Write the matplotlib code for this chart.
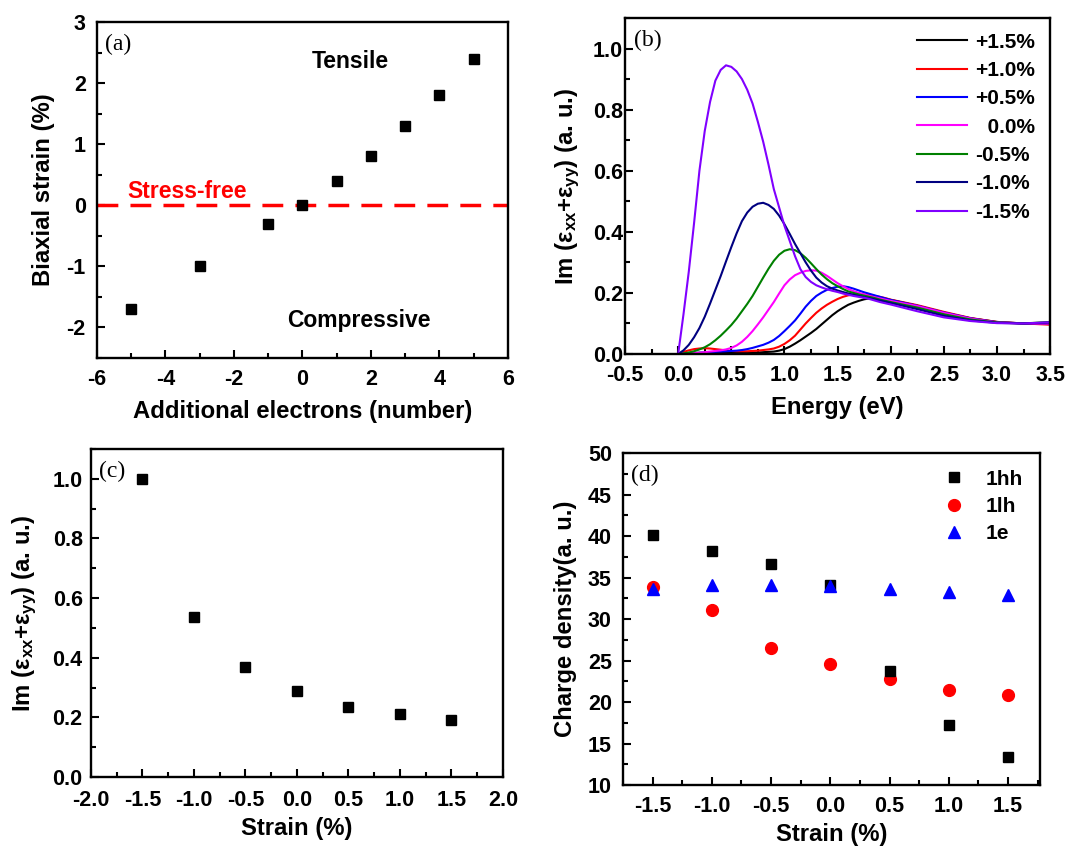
import matplotlib
matplotlib.use('Agg')
import matplotlib.pyplot as plt
from matplotlib.ticker import MultipleLocator

plt.rcParams['font.family'] = ['Liberation Sans', 'DejaVu Sans']
plt.rcParams['font.weight'] = 'bold'
plt.rcParams['axes.labelweight'] = 'bold'
plt.rcParams['axes.unicode_minus'] = False
plt.rcParams['mathtext.fontset'] = 'custom'
plt.rcParams['mathtext.rm'] = 'Liberation Sans:bold'
plt.rcParams['mathtext.it'] = 'Liberation Sans:bold'
plt.rcParams['mathtext.bf'] = 'Liberation Sans:bold'

# ---- (a) strain vs additional electrons
electrons = [-5, -3, -1, 0, 1, 2, 3, 4, 5]
biaxial_strain = [-1.7, -1.0, -0.3, 0.0, 0.4, 0.8, 1.3, 1.8, 2.4]

# ---- (b) Im(eps_xx + eps_yy) spectra
energy = [0.0, 0.05, 0.1, 0.15, 0.2, 0.25, 0.3, 0.35, 0.4, 0.45, 0.5,
          0.55, 0.6, 0.65, 0.7, 0.75, 0.8, 0.85, 0.9, 0.95, 1.0,
          1.05, 1.1, 1.15, 1.2, 1.25, 1.3, 1.35, 1.4, 1.45, 1.5,
          1.55, 1.6, 1.65, 1.7, 1.75, 1.8, 1.85, 1.9, 1.95, 2.0,
          2.25, 2.5, 2.75, 3.0, 3.25, 3.5]
im_p15 = [0.0, 0.002, 0.003, 0.003, 0.004, 0.004, 0.004, 0.004, 0.004, 0.004, 0.004,
          0.004, 0.004, 0.005, 0.005, 0.005, 0.006, 0.007, 0.008, 0.011, 0.016,
          0.024, 0.034, 0.045, 0.057, 0.069, 0.082, 0.097, 0.112, 0.127, 0.140,
          0.151, 0.161, 0.168, 0.174, 0.179, 0.182, 0.183, 0.182, 0.180, 0.177,
          0.158, 0.135, 0.117, 0.105, 0.100, 0.098]
im_p10 = [0.0, 0.007, 0.012, 0.016, 0.018, 0.019, 0.018, 0.016, 0.014, 0.012, 0.010,
          0.009, 0.009, 0.009, 0.010, 0.011, 0.013, 0.015, 0.018, 0.024, 0.033,
          0.045, 0.060, 0.080, 0.100, 0.118, 0.135, 0.149, 0.161, 0.171, 0.180,
          0.187, 0.192, 0.195, 0.196, 0.195, 0.193, 0.190, 0.187, 0.183, 0.178,
          0.160, 0.138, 0.118, 0.105, 0.100, 0.096]
im_p05 = [0.0, 0.001, 0.002, 0.003, 0.004, 0.005, 0.006, 0.007, 0.008, 0.009, 0.010,
          0.011, 0.013, 0.016, 0.020, 0.025, 0.030, 0.037, 0.046, 0.059, 0.075,
          0.092, 0.110, 0.132, 0.155, 0.174, 0.190, 0.201, 0.210, 0.216, 0.220,
          0.222, 0.219, 0.214, 0.208, 0.202, 0.197, 0.192, 0.187, 0.182, 0.177,
          0.158, 0.136, 0.117, 0.104, 0.100, 0.100]
im_00 = [0.0, 0.001, 0.002, 0.003, 0.004, 0.006, 0.008, 0.010, 0.012, 0.015, 0.020,
         0.028, 0.040, 0.056, 0.075, 0.097, 0.120, 0.145, 0.170, 0.198, 0.225,
         0.244, 0.258, 0.266, 0.272, 0.274, 0.273, 0.266, 0.256, 0.244, 0.232,
         0.222, 0.213, 0.206, 0.200, 0.195, 0.190, 0.186, 0.182, 0.178, 0.174,
         0.157, 0.135, 0.116, 0.103, 0.100, 0.100]
im_m05 = [0.0, 0.002, 0.005, 0.009, 0.015, 0.022, 0.032, 0.045, 0.060, 0.077, 0.095,
          0.116, 0.140, 0.164, 0.190, 0.220, 0.250, 0.279, 0.305, 0.325, 0.338,
          0.343, 0.340, 0.330, 0.315, 0.297, 0.278, 0.260, 0.245, 0.232, 0.222,
          0.213, 0.205, 0.200, 0.195, 0.191, 0.187, 0.183, 0.178, 0.174, 0.170,
          0.152, 0.130, 0.113, 0.103, 0.100, 0.105]
im_m10 = [0.0, 0.012, 0.030, 0.055, 0.085, 0.122, 0.165, 0.210, 0.255, 0.303, 0.350,
          0.395, 0.435, 0.463, 0.482, 0.492, 0.495, 0.488, 0.475, 0.453, 0.425,
          0.393, 0.360, 0.330, 0.300, 0.273, 0.250, 0.234, 0.222, 0.214, 0.208,
          0.203, 0.198, 0.194, 0.190, 0.186, 0.183, 0.179, 0.175, 0.171, 0.167,
          0.147, 0.125, 0.110, 0.102, 0.100, 0.103]
im_m15 = [0.0, 0.130, 0.270, 0.430, 0.600, 0.730, 0.825, 0.895, 0.930, 0.945, 0.940,
          0.925, 0.900, 0.865, 0.820, 0.760, 0.695, 0.620, 0.540, 0.480, 0.420,
          0.370, 0.320, 0.278, 0.252, 0.236, 0.225, 0.218, 0.212, 0.207, 0.203,
          0.198, 0.194, 0.190, 0.187, 0.184, 0.180, 0.175, 0.170, 0.166, 0.162,
          0.140, 0.120, 0.108, 0.101, 0.100, 0.104]

spectra = [
    ('+1.5%', im_p15, 'black'),
    ('+1.0%', im_p10, '#FF0000'),
    ('+0.5%', im_p05, '#0000FF'),
    ('  0.0%', im_00, '#FF00FF'),
    ('-0.5%', im_m05, '#008000'),
    ('-1.0%', im_m10, '#000080'),
    ('-1.5%', im_m15, '#8000FF'),
]

# ---- (c) peak intensity vs strain
strain = [-1.5, -1.0, -0.5, 0.0, 0.5, 1.0, 1.5]
peak_im = [1.0, 0.535, 0.37, 0.29, 0.235, 0.21, 0.19]

# ---- (d) charge density vs strain
dens_1hh = [40.1, 38.2, 36.6, 34.1, 23.7, 17.2, 13.4]
dens_1lh = [33.8, 31.1, 26.5, 24.6, 22.8, 21.4, 20.9]
dens_1e = [33.6, 34.1, 34.1, 34.0, 33.6, 33.3, 32.9]

TICK_FS = 15.5
LABEL_FS = 17.2
NOTE_FS = 16.5


def style(ax, xmaj, xmin, ymaj, ymin, xpad=8, ypad=7):
    ax.xaxis.set_major_locator(MultipleLocator(xmaj))
    ax.xaxis.set_minor_locator(MultipleLocator(xmin))
    ax.yaxis.set_major_locator(MultipleLocator(ymaj))
    ax.yaxis.set_minor_locator(MultipleLocator(ymin))
    ax.tick_params(which='both', direction='in', top=False, right=False,
                   width=1.5, labelsize=TICK_FS)
    ax.tick_params(which='major', length=6)
    ax.tick_params(which='minor', length=3.5)
    ax.tick_params(axis='x', which='both', pad=xpad)
    ax.tick_params(axis='y', which='both', pad=ypad)
    for s in ax.spines.values():
        s.set_linewidth(1.7)


def panel_label(ax, txt):
    ax.text(0.02, 0.965, txt, transform=ax.transAxes, ha='left', va='top',
            fontsize=17, family='Liberation Serif', fontweight='normal')


fig = plt.figure(figsize=(10.69, 8.52), dpi=100)

# (a)
ax = fig.add_axes([0.0907, 0.5798, 0.3845, 0.3944])
ax.axhline(0, color='#FF0000', lw=2.5, dashes=(6, 3.5))
ax.plot(electrons, biaxial_strain, 's', color='black', ms=7.5)
ax.set_xlim(-6, 6)
ax.set_ylim(-2.5, 3)
style(ax, 2, 1, 1, 0.5, xpad=8, ypad=8)
ax.set_xlabel('Additional electrons (number)', fontsize=LABEL_FS, labelpad=7)
ax.set_ylabel('Biaxial strain (%)', fontsize=LABEL_FS, labelpad=8)
ax.text(1.4, 2.25, 'Tensile', ha='center', va='baseline', fontsize=NOTE_FS)
ax.text(1.65, -1.99, 'Compressive', ha='center', va='baseline', fontsize=NOTE_FS)
ax.text(-3.37, 0.12, 'Stress-free', ha='center', va='baseline', fontsize=NOTE_FS,
        color='#FF0000')
panel_label(ax, '(a)')

# (b)
ax = fig.add_axes([0.5847, 0.5845, 0.3976, 0.3944])
for lab, v, c in spectra:
    ax.plot(energy, v, color=c, lw=1.5, label=lab)
ax.set_xlim(-0.5, 3.5)
ax.set_ylim(0, 1.1)
style(ax, 0.5, 0.25, 0.2, 0.1, xpad=8, ypad=1.5)
ax.set_xlabel('Energy (eV)', fontsize=LABEL_FS, labelpad=7)
ax.set_ylabel('Im (ε$_{xx}$+ε$_{yy}$) (a. u.)', fontsize=LABEL_FS, labelpad=8)
ax.legend(loc='upper right', frameon=False, fontsize=15, handlelength=2.4,
          labelspacing=0.45, handletextpad=0.4, borderaxespad=0.3)
panel_label(ax, '(b)')

# (c)
ax = fig.add_axes([0.0851, 0.0880, 0.3854, 0.3850])
ax.plot(strain, peak_im, 's', color='black', ms=7.5)
ax.set_xlim(-2, 2)
ax.set_ylim(0, 1.1)
style(ax, 0.5, 0.25, 0.2, 0.1, xpad=9, ypad=6)
ax.set_xlabel('Strain (%)', fontsize=LABEL_FS, labelpad=5)
ax.set_ylabel('Im (ε$_{xx}$+ε$_{yy}$) (a. u.)', fontsize=LABEL_FS, labelpad=10)
panel_label(ax, '(c)')

# (d)
ax = fig.add_axes([0.5828, 0.0786, 0.3901, 0.3897])
ax.plot(strain, dens_1hh, 's', color='black', ms=7.5, label='1hh', zorder=3)
ax.plot(strain, dens_1lh, 'o', color='#FF0000', ms=8.5, label='1lh', zorder=2)
ax.plot(strain, dens_1e, '^', color='#0000FF', ms=9, label='1e', zorder=4)
ax.set_xlim(-1.75, 1.77)
ax.set_ylim(10, 50)
style(ax, 0.5, 0.25, 5, 2.5, xpad=8, ypad=8)
ax.set_xlabel('Strain (%)', fontsize=LABEL_FS, labelpad=4)
ax.set_ylabel('Charge density(a. u.)', fontsize=LABEL_FS, labelpad=8)
ax.legend(loc='upper right', frameon=False, fontsize=15, handlelength=1.5,
          labelspacing=0.4, handletextpad=0.8, borderaxespad=0.4)
panel_label(ax, '(d)')

fig.savefig('out.png', dpi=100)
